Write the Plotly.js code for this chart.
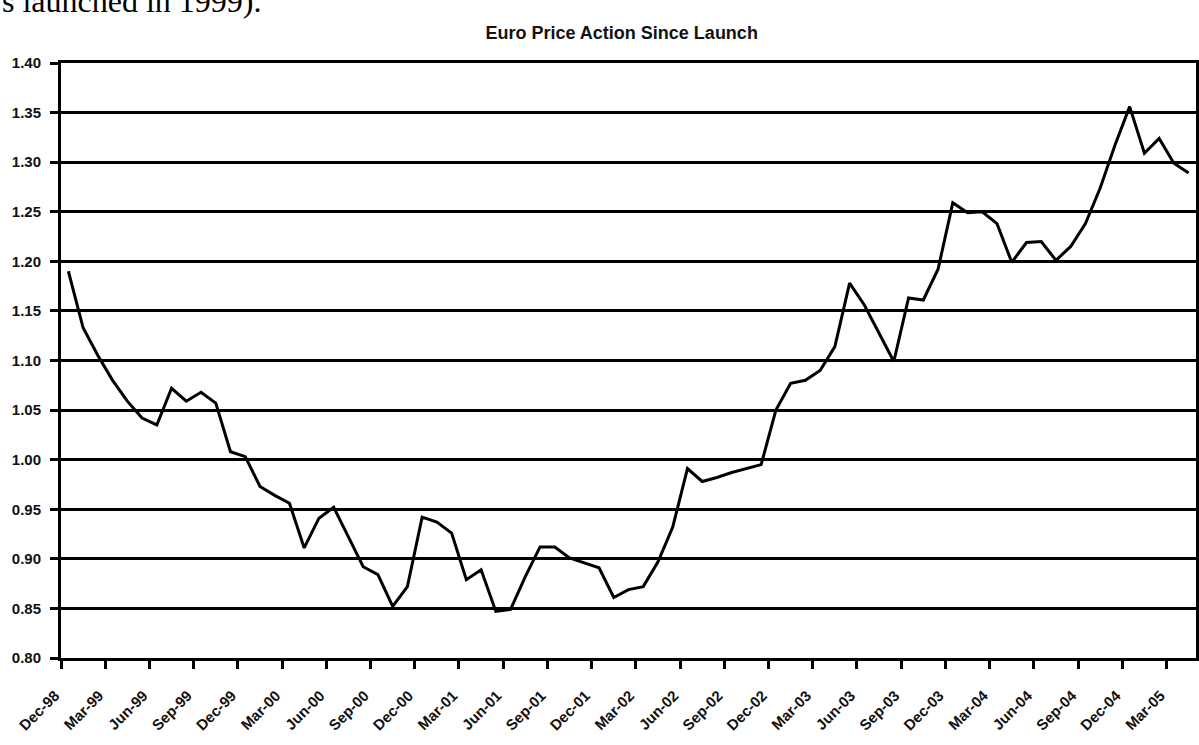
<!DOCTYPE html>
<html>
<head>
<meta charset="utf-8">
<script src="https://cdn.plot.ly/plotly-3.0.1.min.js"></script>
<style>
  html, body { margin: 0; padding: 0; background: #fff; }
  #chart { width: 1199px; height: 745px; }
</style>
</head>
<body>
<div id="chart"></div>
<script>
const months = [
  'Dec-98',
  'Jan-99','Feb-99','Mar-99','Apr-99','May-99','Jun-99','Jul-99','Aug-99','Sep-99','Oct-99','Nov-99','Dec-99',
  'Jan-00','Feb-00','Mar-00','Apr-00','May-00','Jun-00','Jul-00','Aug-00','Sep-00','Oct-00','Nov-00','Dec-00',
  'Jan-01','Feb-01','Mar-01','Apr-01','May-01','Jun-01','Jul-01','Aug-01','Sep-01','Oct-01','Nov-01','Dec-01',
  'Jan-02','Feb-02','Mar-02','Apr-02','May-02','Jun-02','Jul-02','Aug-02','Sep-02','Oct-02','Nov-02','Dec-02',
  'Jan-03','Feb-03','Mar-03','Apr-03','May-03','Jun-03','Jul-03','Aug-03','Sep-03','Oct-03','Nov-03','Dec-03',
  'Jan-04','Feb-04','Mar-04','Apr-04','May-04','Jun-04','Jul-04','Aug-04','Sep-04','Oct-04','Nov-04','Dec-04',
  'Jan-05','Feb-05','Mar-05','Apr-05'
];
const eurusd = [
  1.190,
  1.133, 1.105, 1.080, 1.059, 1.042, 1.035, 1.072, 1.059, 1.068, 1.057, 1.008, 1.003,
  0.973, 0.964, 0.956, 0.911, 0.941, 0.952, 0.922, 0.892, 0.884, 0.852, 0.872, 0.942,
  0.937, 0.926, 0.879, 0.889, 0.847, 0.849, 0.882, 0.912, 0.912, 0.901, 0.896, 0.891,
  0.861, 0.869, 0.872, 0.897, 0.932, 0.991, 0.978, 0.982, 0.987, 0.991, 0.995, 1.050,
  1.077, 1.080, 1.090, 1.114, 1.178, 1.156, 1.128, 1.099, 1.163, 1.161, 1.192, 1.259,
  1.249, 1.250, 1.238, 1.199, 1.219, 1.220, 1.201, 1.215, 1.238, 1.274, 1.317, 1.356,
  1.309, 1.324, 1.299, 1.289
];
const tickLabels = [
  'Dec-98','Mar-99','Jun-99','Sep-99','Dec-99','Mar-00','Jun-00','Sep-00','Dec-00',
  'Mar-01','Jun-01','Sep-01','Dec-01','Mar-02','Jun-02','Sep-02','Dec-02','Mar-03',
  'Jun-03','Sep-03','Dec-03','Mar-04','Jun-04','Sep-04','Dec-04','Mar-05'
];
const yTicks = [0.80, 0.85, 0.90, 0.95, 1.00, 1.05, 1.10, 1.15, 1.20, 1.25, 1.30, 1.35, 1.40];
const chartTitle = 'Euro Price Action Since Launch';
const pageFragment = 's launched in 1999).';

const xIdx = months.map((m, i) => i);
// tick marks sit on the category boundary before each labelled month
const tickPos = tickLabels.map(t => months.indexOf(t) - 0.5);

const trace = {
  x: xIdx,
  y: eurusd,
  type: 'scatter',
  mode: 'lines',
  line: { color: '#000', width: 3 },
  hoverinfo: 'skip'
};

const lblFont = { family: 'Liberation Sans, Arial, sans-serif', size: 15, color: '#111', weight: 'bold' };

const layout = {
  width: 1199,
  height: 745,
  margin: { l: 61, r: 3, t: 63, b: 87 },
  paper_bgcolor: '#fff',
  plot_bgcolor: '#fff',
  showlegend: false,
  title: {
    text: '<b>' + chartTitle + '</b>',
    font: { family: 'Liberation Sans, Arial, sans-serif', size: 18, color: '#111' },
    x: 0.494, xref: 'paper', xanchor: 'center',
    y: 1 - 33 / 745, yref: 'container', yanchor: 'middle'
  },
  xaxis: {
    type: 'linear',
    range: [-0.5, months.length - 0.5],
    tickmode: 'array',
    tickvals: tickPos,
    ticktext: tickLabels.map(t => '<b>' + t + '</b>'),
    tickangle: -45,
    ticks: 'outside',
    ticklen: 8,
    tickwidth: 3,
    tickcolor: '#000',
    tickfont: lblFont,
    ticklabelstandoff: 12,
    ticklabelshift: -6,
    showgrid: false,
    zeroline: false,
    showline: true,
    linecolor: '#000',
    linewidth: 3,
    mirror: true
  },
  yaxis: {
    range: [0.80, 1.40],
    tickmode: 'array',
    tickvals: yTicks,
    ticktext: yTicks.map(v => '<b>' + v.toFixed(2) + '</b>'),
    ticks: 'outside',
    ticklen: 8,
    tickwidth: 3,
    tickcolor: '#000',
    tickfont: lblFont,
    ticklabelstandoff: 6,
    showgrid: true,
    gridcolor: '#000',
    gridwidth: 3,
    zeroline: false,
    showline: true,
    linecolor: '#000',
    linewidth: 3,
    mirror: true
  },
  annotations: [{
    text: pageFragment,
    xref: 'paper', yref: 'paper',
    x: -61 / 1135, xanchor: 'left',
    y: 1 + (63 - 21) / 595, yanchor: 'bottom',
    showarrow: false,
    font: { family: 'Liberation Serif, Times New Roman, serif', size: 32, color: '#000' }
  }]
};

Plotly.newPlot('chart', [trace], layout, { displayModeBar: false, staticPlot: true });
</script>
</body>
</html>
